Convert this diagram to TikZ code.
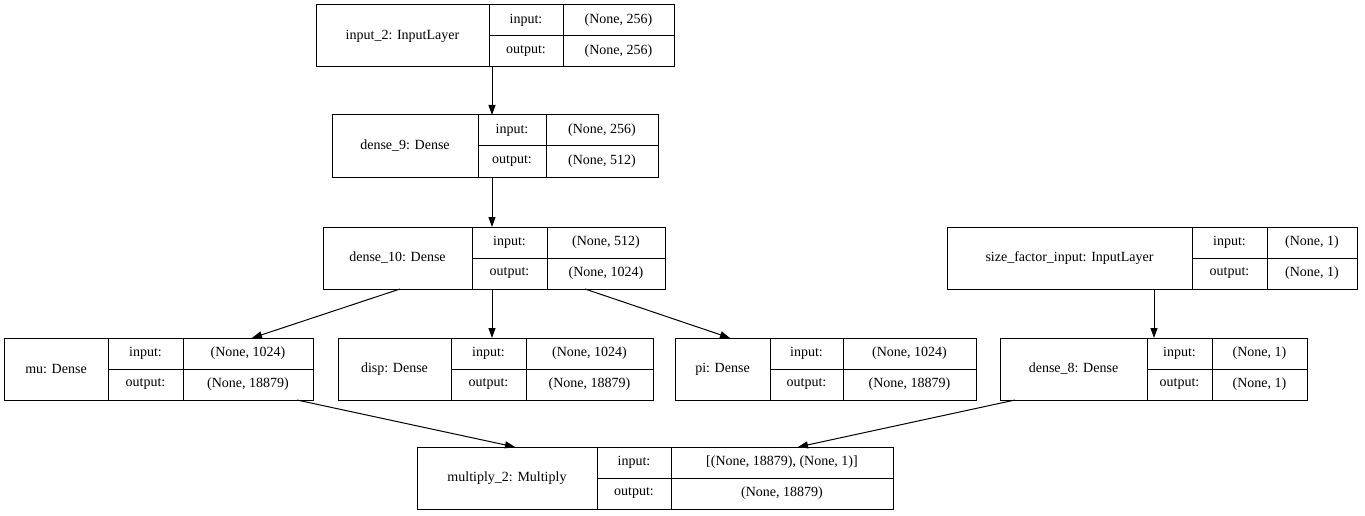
\documentclass[tikz,border=0pt]{standalone}
\usepackage{fontspec}
\setmainfont{Liberation Serif}
\usetikzlibrary{arrows.meta}
\tikzset{
  box/.style={draw, line width=1pt, inner sep=0pt, outer sep=0pt, anchor=north west},
  sep/.style={line width=1pt},
  arr/.style={-{Triangle[length=10pt,width=7pt]}, line width=1pt},
  lbl/.style={inner sep=0pt, font=\fontsize{14}{17}\selectfont}
}
\newcommand\rec[9]{%
  \node[box, minimum width={(#5-#2)*1pt}, minimum height=62pt] (#1) at (#2,#6) {};
  \draw[sep] (#3,#6) -- (#3,{#6+62});
  \draw[sep] (#4,#6) -- (#4,{#6+62});
  \draw[sep] (#3,{#6+31}) -- (#5,{#6+31});
  \node[lbl] (#1-l) at ({(#2+#3)/2},{#6+31}) {#7};
  \node[lbl] (#1-i) at ({(#3+#4)/2},{#6+15.5}) {input:};
  \node[lbl] (#1-o) at ({(#3+#4)/2},{#6+46.5}) {output:};
  \node[lbl] (#1-iv) at ({(#4+#5)/2},{#6+15.5}) {#8};
  \node[lbl] (#1-ov) at ({(#4+#5)/2},{#6+46.5}) {#9};
}
\begin{document}
\begin{tikzpicture}[x=1pt,y=-1pt]
\useasboundingbox (0,0) rectangle (1365,516);
\rec{in2}{316}{489}{563}{674}{5}{input\_2: InputLayer}{(None, 256)}{(None, 256)}
\rec{d9}{332}{478}{546}{658}{115}{dense\_9: Dense}{(None, 256)}{(None, 512)}
\rec{d10}{323}{472}{547}{665}{227}{dense\_10: Dense}{(None, 512)}{(None, 1024)}
\rec{sf}{947}{1192}{1267}{1357}{227}{size\_factor\_input: InputLayer}{(None, 1)}{(None, 1)}
\rec{mu}{4}{108}{183}{313}{338}{mu: Dense}{(None, 1024)}{(None, 18879)}
\rec{disp}{338}{451}{526}{653}{338}{disp: Dense}{(None, 1024)}{(None, 18879)}
\rec{pi}{675}{770}{843}{976}{338}{pi: Dense}{(None, 1024)}{(None, 18879)}
\rec{d8}{1000}{1147}{1212}{1307}{338}{dense\_8: Dense}{(None, 1)}{(None, 1)}
\rec{mult}{417}{597}{671}{893}{447}{multiply\_2: Multiply}{[(None, 18879), (None, 1)]}{(None, 18879)}
\draw[arr] ([xshift=176pt]in2.south west) -- ([xshift=160pt]d9.north west);
\draw[arr] ([xshift=160pt]d9.south west) -- ([xshift=169pt]d10.north west);
\draw[arr] ([xshift=77pt]d10.south west) -- ([xshift=248pt]mu.north west);
\draw[arr] ([xshift=169pt]d10.south west) -- ([xshift=154pt]disp.north west);
\draw[arr] ([xshift=262pt]d10.south west) -- ([xshift=55pt]pi.north west);
\draw[arr] ([xshift=207pt]sf.south west) -- ([xshift=154pt]d8.north west);
\draw[arr] ([xshift=293pt]mu.south west) -- ([xshift=98pt]mult.north west);
\draw[arr] ([xshift=15pt]d8.south west) -- ([xshift=381pt]mult.north west);
\end{tikzpicture}
\end{document}
